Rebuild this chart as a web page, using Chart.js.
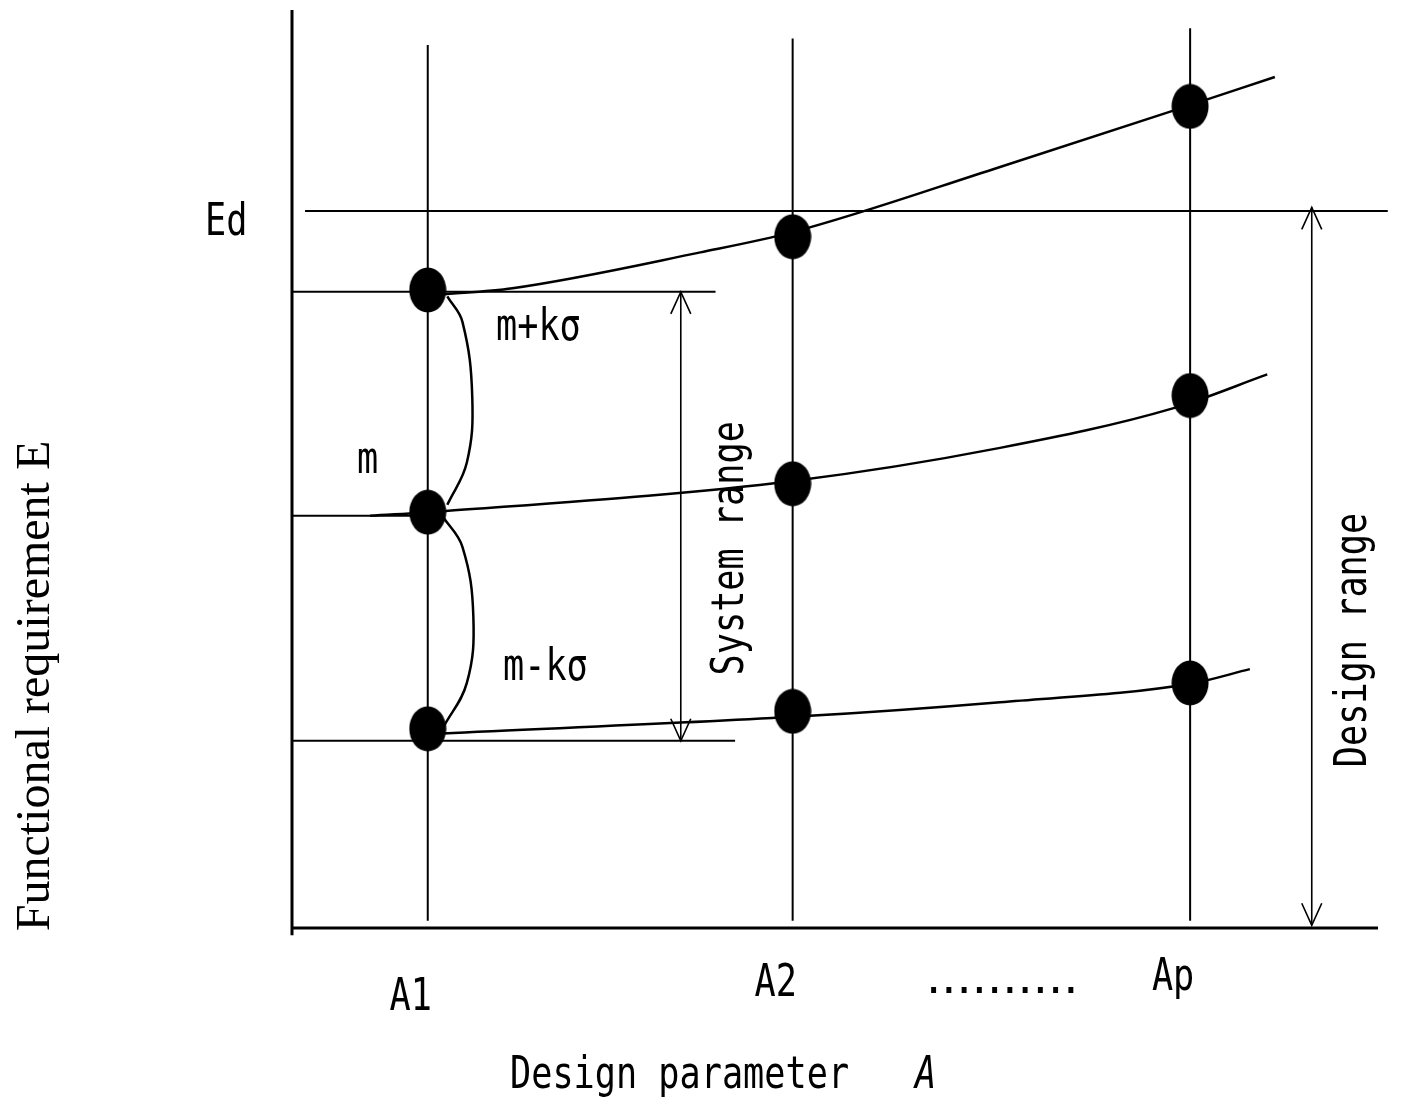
<!DOCTYPE html>
<html lang="en">
<head>
<meta charset="utf-8" />
<title>Design parameter and functional requirement</title>
<style>
  html, body { margin: 0; padding: 0; background: #fff; }
  canvas { display: block; }
</style>
</head>
<body>
<canvas id="rangeChart" width="1406" height="1098"></canvas>
<script src="https://cdn.jsdelivr.net/npm/chart.js@4.4.1/dist/chart.umd.min.js"></script>
<script>
// values, chart units: x = design parameter 0..10, y = requirement E 0..10
const categories = ["A1", "A2", "Ap"];
const categoryX = [1.25, 4.61, 8.27];
const upperY = [6.95, 7.53, 8.95];   // m+kσ
const meanY = [4.53, 4.84, 5.80];    // m
const lowerY = [2.17, 2.36, 2.67];   // m-kσ
const designLimit = 7.81;            // Ed
const lineTops = [9.62, 9.69, 9.80];

// hand-drawn trend curves
const upperCurveX = [1.36, 2.03, 3.76, 4.61, 6.52, 8.08, 9.05];
const upperCurveY = [6.90, 6.97, 7.36, 7.58, 8.29, 8.89, 9.27];
const meanCurveX = [0.72, 1.39, 4.61, 6.52, 8.11, 8.98];
const meanCurveY = [4.49, 4.54, 4.87, 5.23, 5.66, 6.03];
const lowerCurveX = [1.39, 4.61, 6.52, 8.27, 8.82];
const lowerCurveY = [2.12, 2.30, 2.46, 2.66, 2.82];

// horizontal guides at A1 (level, how far right they go)
const levelY = [6.93, 4.49, 2.04];
const levelReach = [3.90, 1.25, 4.08];

// spread arcs between the A1 points
const upperArcX = [1.43, 1.57, 1.66, 1.61, 1.43];
const upperArcY = [6.88, 6.60, 5.78, 5.07, 4.61];
const lowerArcX = [1.39, 1.57, 1.67, 1.61, 1.39];
const lowerArcY = [4.48, 4.15, 3.39, 2.67, 2.18];

// double arrows
const rangeNames = ["System range", "Design range"];
const rangeX = [3.58, 9.39];
const rangeLow = [2.04, 0.03];
const rangeHigh = [6.93, 7.85];

function pts(xs, ys) {
  return xs.map((x, i) => ({ x: x, y: ys[i] }));
}

function line(points, width, extra) {
  return Object.assign({
    data: points, showLine: true, borderColor: "#000", borderWidth: width,
    pointRadius: 0, tension: 0, clip: false, order: 2
  }, extra || {});
}

// filled oval marker
const dot = document.createElement("canvas");
dot.width = 38; dot.height = 46;
const dctx = dot.getContext("2d");
dctx.fillStyle = "#000";
dctx.beginPath();
dctx.ellipse(19, 23, 18.5, 22.5, 0, 0, Math.PI * 2);
dctx.fill();

const smooth = { cubicInterpolationMode: "monotone" };
const datasets = [];
// axes
datasets.push(line([{ x: 0, y: 0 }, { x: 10, y: 0 }], 3));
datasets.push(line([{ x: 0, y: -0.08 }, { x: 0, y: 10 }], 3));
// verticals at each design parameter value
categoryX.forEach((x, i) => datasets.push(line([{ x: x, y: 0.08 }, { x: x, y: lineTops[i] }], 2)));
// Ed
datasets.push(line([{ x: 0.12, y: designLimit }, { x: 10.09, y: designLimit }], 2));
// level guides
levelY.forEach((y, i) => datasets.push(line([{ x: 0, y: y }, { x: levelReach[i], y: y }], 2)));
// curves
datasets.push(line(pts(upperCurveX, upperCurveY), 2.5, smooth));
datasets.push(line(pts(meanCurveX, meanCurveY), 2.5, smooth));
datasets.push(line(pts(lowerCurveX, lowerCurveY), 2.5, smooth));
// arcs
datasets.push(line(pts(upperArcX, upperArcY), 2.5, { tension: 0.4 }));
datasets.push(line(pts(lowerArcX, lowerArcY), 2.5, { tension: 0.4 }));
// range arrows
rangeX.forEach((x, i) => datasets.push(line([{ x: x, y: rangeLow[i] }, { x: x, y: rangeHigh[i] }], 1.6)));
// the points themselves
datasets.push({
  data: pts(categoryX, upperY).concat(pts(categoryX, meanY), pts(categoryX, lowerY)),
  showLine: false, pointStyle: dot, pointRadius: 20, clip: false, order: 0
});

function text(ctx, str, x, y, o) {
  ctx.save();
  ctx.translate(x, y);
  if (o.rotate) ctx.rotate(o.rotate);
  ctx.scale(o.sx || 1, 1);
  ctx.font = o.font;
  ctx.textAlign = o.align || "left";
  ctx.textBaseline = o.baseline || "alphabetic";
  ctx.fillStyle = "#000";
  ctx.fillText(str, 0, 0);
  ctx.restore();
}

const annotations = {
  id: "annotations",
  afterDatasetsDraw(chart) {
    const ctx = chart.ctx;
    const xs = chart.scales.x, ys = chart.scales.y;
    const mono = "44px 'DejaVu Sans Mono'";
    const m = { font: mono, sx: 0.8 };

    // arrow heads
    ctx.save();
    ctx.strokeStyle = "#000";
    ctx.lineWidth = 1.6;
    rangeX.forEach((x, i) => {
      const px = xs.getPixelForValue(x);
      [[rangeHigh[i], 1], [rangeLow[i], -1]].forEach(([v, dir]) => {
        const py = ys.getPixelForValue(v);
        ctx.beginPath();
        ctx.moveTo(px - 10, py + dir * 22);
        ctx.lineTo(px, py);
        ctx.lineTo(px + 10, py + dir * 22);
        ctx.stroke();
      });
    });
    ctx.restore();

    text(ctx, "Ed", 205, ys.getPixelForValue(designLimit) + 24, m);
    text(ctx, "m+k\u03c3", 496, 340, m);
    text(ctx, "m", 357, 473, m);
    text(ctx, "m-k\u03c3", 503, 680, m);

    const sysMid = ys.getPixelForValue((rangeLow[0] + rangeHigh[0]) / 2);
    text(ctx, rangeNames[0], 732, sysMid + 32, Object.assign({ rotate: -Math.PI / 2, align: "center", baseline: "middle" }, m));
    text(ctx, rangeNames[1], 1355, 640, Object.assign({ rotate: -Math.PI / 2, align: "center", baseline: "middle" }, m));

    const tickBase = [1010, 996, 990];
    categories.forEach((c, i) => {
      text(ctx, c, xs.getPixelForValue(categoryX[i]) - 17, tickBase[i], Object.assign({ align: "center" }, m));
    });
    text(ctx, "..........", 926, 993, { font: "48px 'DejaVu Sans'" });

    text(ctx, "Design parameter", 510, 1088, m);
    text(ctx, "A", 915, 1088, { font: "italic 44px 'DejaVu Sans Mono'", sx: 0.8 });

    text(ctx, "Functional requirement E", 36, 686, {
      font: "48px 'Liberation Serif'", rotate: -Math.PI / 2, align: "center", baseline: "middle"
    });
  }
};

new Chart(document.getElementById("rangeChart").getContext("2d"), {
  type: "scatter",
  data: { datasets: datasets },
  options: {
    responsive: false,
    animation: false,
    events: [],
    layout: { autoPadding: false, padding: { left: 292, right: 28, top: 10, bottom: 170 } },
    scales: {
      x: { type: "linear", min: 0, max: 10, display: false },
      y: { type: "linear", min: 0, max: 10, display: false }
    },
    plugins: { legend: { display: false }, tooltip: { enabled: false } }
  },
  plugins: [annotations]
});
</script>
</body>
</html>
